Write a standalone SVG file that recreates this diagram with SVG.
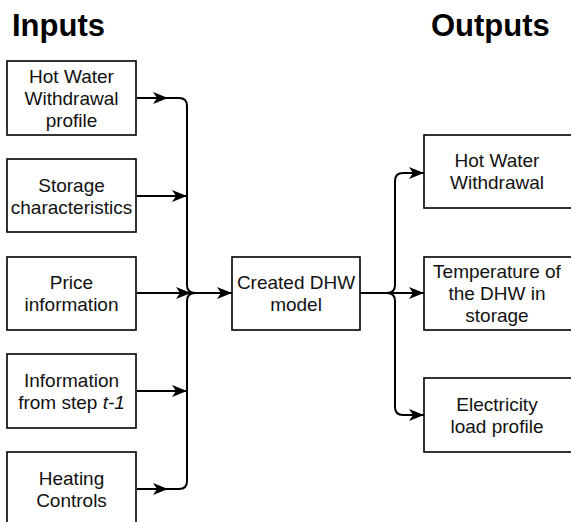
<svg xmlns="http://www.w3.org/2000/svg" width="571" height="522" viewBox="0 0 571 522">
<style>
.box{fill:#fff;stroke:#000;stroke-width:1.6}
.t{font-family:"Liberation Sans",Arial,sans-serif;font-size:19px;text-anchor:middle;fill:#111}
.title{font-family:"Liberation Sans",Arial,sans-serif;font-size:31px;font-weight:bold;fill:#000}
.c{fill:none;stroke:#000;stroke-width:2}
</style>
<defs>
<marker id="ah" markerUnits="userSpaceOnUse" markerWidth="18" markerHeight="14" viewBox="-16 -7 18 14" refX="0" refY="0" orient="auto">
<path d="M0,0 L-15,-6 L-11,0 L-15,6 Z" fill="#000"/>
</marker>
</defs>
<text class="title" x="12" y="36">Inputs</text>
<text class="title" x="431" y="36">Outputs</text>
<g id="in1"><rect class="box" x="7" y="61" width="129" height="74"/><text class="t" x="71.5" y="83">Hot Water</text><text class="t" x="71.5" y="105">Withdrawal</text><text class="t" x="71.5" y="127">profile</text></g>
<g id="in2"><rect class="box" x="7" y="159" width="129" height="73"/><text class="t" x="71.5" y="192">Storage</text><text class="t" x="71.5" y="214">characteristics</text></g>
<g id="in3"><rect class="box" x="7" y="257" width="129" height="73"/><text class="t" x="71.5" y="289">Price</text><text class="t" x="71.5" y="311">information</text></g>
<g id="in4"><rect class="box" x="7" y="354" width="129" height="74"/><text class="t" x="71.5" y="387">Information</text><text class="t" x="71.5" y="409">from step <tspan font-style="italic">t-1</tspan></text></g>
<g id="in5"><rect class="box" x="7" y="452" width="129" height="80"/><text class="t" x="71.5" y="485">Heating</text><text class="t" x="71.5" y="507">Controls</text></g>
<g id="model"><rect class="box" x="232" y="257" width="128" height="73"/><text class="t" x="296" y="289">Created DHW</text><text class="t" x="296" y="311">model</text></g>
<g id="out1"><rect class="box" x="424" y="135" width="160" height="73"/><text class="t" x="497" y="167">Hot Water</text><text class="t" x="497" y="189">Withdrawal</text></g>
<g id="out2"><rect class="box" x="424" y="257" width="160" height="73"/><text class="t" x="497" y="278">Temperature of</text><text class="t" x="497" y="300">the DHW in</text><text class="t" x="497" y="322">storage</text></g>
<g id="out3"><rect class="box" x="424" y="378" width="160" height="74"/><text class="t" x="497" y="411">Electricity</text><text class="t" x="497" y="433">load profile</text></g>
<g id="connectors">
<path class="c" d="M137,98 H168" marker-end="url(#ah)"/>
<path class="c" d="M166,98 H179 Q187,98 187,106 V285 Q187,293 195,293"/>
<path class="c" d="M137,489 H168" marker-end="url(#ah)"/>
<path class="c" d="M166,489 H179 Q187,489 187,481 V301 Q187,293 195,293"/>
<path class="c" d="M137,196 H187" marker-end="url(#ah)"/>
<path class="c" d="M137,391 H187" marker-end="url(#ah)"/>
<path class="c" d="M137,293 H191" marker-end="url(#ah)"/>
<path class="c" d="M190,293 H232" marker-end="url(#ah)"/>
<path class="c" d="M360,293 H424" marker-end="url(#ah)"/>
<path class="c" d="M380,293 H387 Q395,293 395,285 V181 Q395,173 403,173 H424" marker-end="url(#ah)"/>
<path class="c" d="M380,293 H387 Q395,293 395,301 V407 Q395,415 403,415 H424" marker-end="url(#ah)"/>
</g>
</svg>
